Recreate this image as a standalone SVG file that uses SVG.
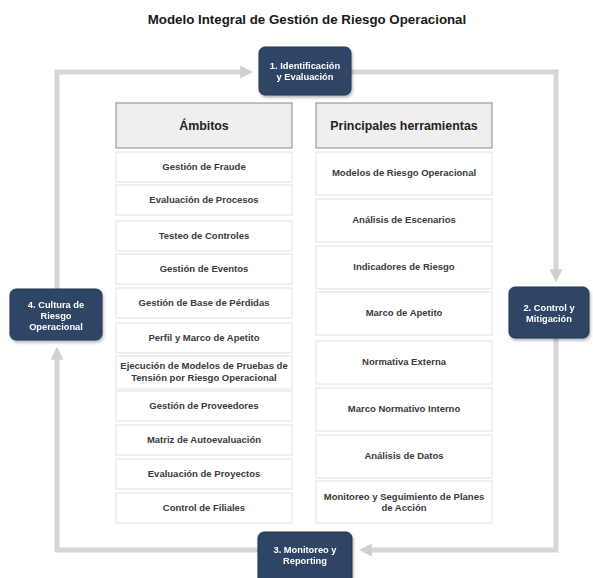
<svg xmlns="http://www.w3.org/2000/svg" width="593" height="578" viewBox="0 0 593 578">
<defs>
<style>
.title{font-family:"Liberation Sans",Arial,sans-serif;font-size:13.3px;font-weight:bold;fill:#1a1a1a}
.hdr{fill:#efefef;stroke:#9a9a9a;stroke-width:1.2}
.hdrt{font-family:"Liberation Sans",Arial,sans-serif;font-size:12.4px;font-weight:bold;fill:#222}
.item{fill:#fff;stroke:#e2e2e2;stroke-width:1}
.it{font-family:"Liberation Sans",Arial,sans-serif;font-size:9.5px;font-weight:bold;fill:#3a3a3a}
.node{fill:#2f4565;stroke:#24344e;stroke-width:1}
.nt{font-family:"Liberation Sans",Arial,sans-serif;font-size:9.3px;font-weight:bold;fill:#fff}
.conn{fill:none;stroke:#d6d6d6;stroke-width:5}
</style>
<marker id="ah" viewBox="0 0 10 10" refX="6" refY="5" markerWidth="2.6" markerHeight="2.6" orient="auto" markerUnits="strokeWidth">
<path d="M0,0 L10,5 L0,10 z" fill="#d0d0d0"/>
</marker>
<filter id="sh" x="-20%" y="-20%" width="140%" height="150%">
<feDropShadow dx="1" dy="2" stdDeviation="1.5" flood-color="#000" flood-opacity="0.3"/>
</filter>
</defs>
<rect width="593" height="578" fill="#fff"/>
<text class="title" x="307" y="24" text-anchor="middle">Modelo Integral de Gestión de Riesgo Operacional</text>

<g id="connectors">
<path class="conn" d="M57,289 L57,72 L248,72" marker-end="url(#ah)"/>
<path class="conn" d="M351,72 L556,72 L556,277" marker-end="url(#ah)"/>
<path class="conn" d="M556,338 L556,550 L364,550" marker-end="url(#ah)"/>
<path class="conn" d="M258,550 L57,550 L57,352" marker-end="url(#ah)"/>
</g>

<g id="ambitos">
<rect class="hdr" x="116" y="103" width="176" height="45"/>
<text class="hdrt" x="204" y="130" text-anchor="middle">Ámbitos</text>
</g>
<g id="ambitos-items">
<rect class="item" x="116" y="152" width="176" height="30"/><text class="it" x="204" y="170" text-anchor="middle">Gestión de Fraude</text>
<rect class="item" x="116" y="185" width="176" height="30"/><text class="it" x="204" y="203" text-anchor="middle">Evaluación de Procesos</text>
<rect class="item" x="116" y="221" width="176" height="30"/><text class="it" x="204" y="239" text-anchor="middle">Testeo de Controles</text>
<rect class="item" x="116" y="254" width="176" height="30"/><text class="it" x="204" y="272" text-anchor="middle">Gestión de Eventos</text>
<rect class="item" x="116" y="288" width="176" height="30"/><text class="it" x="204" y="306" text-anchor="middle">Gestión de Base de Pérdidas</text>
<rect class="item" x="116" y="323" width="176" height="30"/><text class="it" x="204" y="341" text-anchor="middle">Perfil y Marco de Apetito</text>
<rect class="item" x="116" y="356" width="176" height="33"/><text class="it" x="204" y="369" text-anchor="middle">Ejecución de Modelos de Pruebas de</text><text class="it" x="204" y="381" text-anchor="middle">Tensión por Riesgo Operacional</text>
<rect class="item" x="116" y="391" width="176" height="30"/><text class="it" x="204" y="409" text-anchor="middle">Gestión de Proveedores</text>
<rect class="item" x="116" y="425" width="176" height="30"/><text class="it" x="204" y="443" text-anchor="middle">Matriz de Autoevaluación</text>
<rect class="item" x="116" y="459" width="176" height="30"/><text class="it" x="204" y="477" text-anchor="middle">Evaluación de Proyectos</text>
<rect class="item" x="116" y="493" width="176" height="30"/><text class="it" x="204" y="511" text-anchor="middle">Control de Filiales</text>
</g>

<g id="herramientas">
<rect class="hdr" x="316" y="103" width="176" height="45"/>
<text class="hdrt" x="404" y="130" text-anchor="middle">Principales herramientas</text>
</g>
<g id="herramientas-items">
<rect class="item" x="316" y="152" width="176" height="43"/><text class="it" x="404" y="176" text-anchor="middle">Modelos de Riesgo Operacional</text>
<rect class="item" x="316" y="199" width="176" height="43"/><text class="it" x="404" y="223" text-anchor="middle">Análisis de Escenarios</text>
<rect class="item" x="316" y="246" width="176" height="43"/><text class="it" x="404" y="270" text-anchor="middle">Indicadores de Riesgo</text>
<rect class="item" x="316" y="292" width="176" height="43"/><text class="it" x="404" y="316" text-anchor="middle">Marco de Apetito</text>
<rect class="item" x="316" y="341" width="176" height="43"/><text class="it" x="404" y="365" text-anchor="middle">Normativa Externa</text>
<rect class="item" x="316" y="388" width="176" height="43"/><text class="it" x="404" y="412" text-anchor="middle">Marco Normativo Interno</text>
<rect class="item" x="316" y="435" width="176" height="43"/><text class="it" x="404" y="459" text-anchor="middle">Análisis de Datos</text>
<rect class="item" x="316" y="481" width="176" height="42"/><text class="it" x="404" y="500" text-anchor="middle">Monitoreo y Seguimiento de Planes</text><text class="it" x="404" y="511" text-anchor="middle">de Acción</text>
</g>

<g id="node1" filter="url(#sh)">
<rect class="node" x="259" y="47" width="92" height="48" rx="6"/>
<text class="nt" x="305" y="69" text-anchor="middle">1. Identificación</text>
<text class="nt" x="305" y="80" text-anchor="middle">y Evaluación</text>
</g>
<g id="node2" filter="url(#sh)">
<rect class="node" x="509" y="287" width="80" height="51" rx="6"/>
<text class="nt" x="549" y="311" text-anchor="middle">2. Control y</text>
<text class="nt" x="549" y="322" text-anchor="middle">Mitigación</text>
</g>
<g id="node3" filter="url(#sh)">
<rect class="node" x="258" y="532" width="94" height="56" rx="6"/>
<text class="nt" x="305" y="553" text-anchor="middle">3. Monitoreo y</text>
<text class="nt" x="305" y="564" text-anchor="middle">Reporting</text>
</g>
<g id="node4" filter="url(#sh)">
<rect class="node" x="10" y="289" width="92" height="51" rx="6"/>
<text class="nt" x="56" y="308" text-anchor="middle">4. Cultura de</text>
<text class="nt" x="56" y="319" text-anchor="middle">Riesgo</text>
<text class="nt" x="56" y="330" text-anchor="middle">Operacional</text>
</g>
</svg>
